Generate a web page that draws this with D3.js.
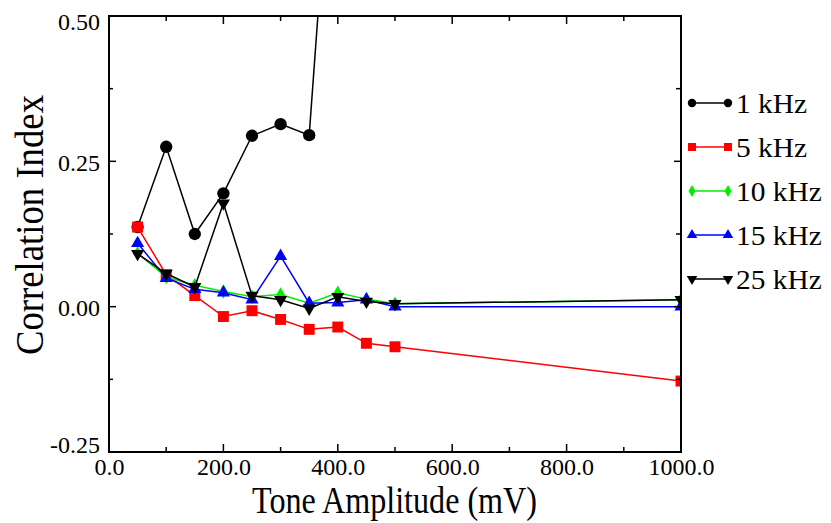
<!DOCTYPE html>
<html><head><meta charset="utf-8">
<script src="https://cdn.jsdelivr.net/npm/d3@7"></script>
<style>body{margin:0;background:#fff}svg{display:block}</style>
</head><body>
<script>
const amplitudes = [50,100,150,200,250,300,350,400,450,500,1000];
const series1k  = [0.137,0.275,0.125,0.195,0.294,0.314,0.295,0.97,null,null,null];
const series5k  = [0.137,0.055,0.019,-0.017,-0.007,-0.022,-0.039,-0.035,-0.063,-0.069,-0.128];
const series10k = [0.092,0.051,0.037,0.026,0.017,0.021,0.006,0.024,0.013,0.005,0.012];
const series15k = [0.109,0.049,0.030,0.024,0.012,0.087,0.006,0.007,0.012,0.000,0.000];
const series25k = [0.091,0.057,0.034,0.178,0.019,0.012,-0.003,0.017,0.009,0.005,0.012];
const seriesNames = ["1 kHz","5 kHz","10 kHz","15 kHz","25 kHz"];
const xTickValues = [0,200,400,600,800,1000];
const yTickValues = [-0.25,0,0.25,0.5];
const xTitle = "Tone Amplitude (mV)";
const yTitle = "Correlation Index";

const FONT = '"Liberation Serif","Times New Roman",Times,serif';
const W=831,H=523;
const svg=d3.select("body").append("svg").attr("width",W).attr("height",H)
  .attr("font-family",FONT);
const L=109,R=681,T=16,B=452;
const x=d3.scaleLinear().domain([0,1000]).range([L,R]);
const y=d3.scaleLinear().domain([-0.25,0.5]).range([B,T]);

const styles=[
 {color:"#000000",sym:d3.symbolCircle,size:120,lsize:56,rot:0},
 {color:"#ff0000",sym:d3.symbolSquare,size:120,lsize:64,rot:0},
 {color:"#00ee00",sym:d3.symbolDiamond,size:60,lsize:42,rot:0},
 {color:"#0000ff",sym:d3.symbolTriangle,size:75,lsize:48,rot:0},
 {color:"#000000",sym:d3.symbolTriangle,size:75,lsize:48,rot:180}
];
const allSeries=[series1k,series5k,series10k,series15k,series25k];

svg.append("clipPath").attr("id","clip").append("rect").attr("x",L).attr("y",T).attr("width",R-L).attr("height",B-T);

const g=svg.append("g").attr("clip-path","url(#clip)");
const line=d3.line().defined(d=>d[1]!=null).x(d=>x(d[0])).y(d=>y(d[1]));
allSeries.forEach((s,i)=>{
  const st=styles[i];
  const pts=amplitudes.map((a,j)=>[a,s[j]]);
  const sg=g.append("g");
  sg.append("path").attr("d",line(pts)).attr("fill","none").attr("stroke",st.color).attr("stroke-width",1.5);
  sg.selectAll("path.m").data(pts.filter(d=>d[1]!=null)).join("path").attr("class","m")
    .attr("d",d3.symbol(st.sym,st.size))
    .attr("transform",d=>`translate(${x(d[0])},${y(d[1])}) rotate(${st.rot})`)
    .attr("fill",st.color);
});

// Axes
const axG=svg.append("g");
const bottom=axG.append("g").attr("transform",`translate(0,${B})`)
  .call(d3.axisBottom(x).tickValues(xTickValues).tickSize(0).tickPadding(6).tickFormat(d3.format(".1f")));
bottom.attr("font-family",null).attr("font-size",null);
bottom.select(".domain").remove();
bottom.selectAll("text").attr("font-size",24).attr("font-family",FONT).attr("fill","#000");
const fmtY=d=>d3.format(".2f")(d).replace("\u2212","-");
const left=axG.append("g").attr("transform",`translate(${L},0)`)
  .call(d3.axisLeft(y).tickValues(yTickValues).tickSize(0).tickPadding(9).tickFormat(fmtY));
left.attr("font-family",null).attr("font-size",null);
left.select(".domain").remove();
left.selectAll("text").attr("font-size",24).attr("font-family",FONT).attr("fill","#000")
  .attr("dy",d=>d===-0.25?"0.0em":d===0.5?"0.55em":"0.38em");

const xMin=d3.range(100,1000,200);
const yMin=[-0.125,0.125,0.375];
const tk=axG.append("g").attr("stroke","#000").attr("stroke-width",1.5);
xTickValues.forEach(v=>{tk.append("line").attr("x1",x(v)).attr("x2",x(v)).attr("y1",B).attr("y2",B-8);
                 tk.append("line").attr("x1",x(v)).attr("x2",x(v)).attr("y1",T).attr("y2",T+8);});
xMin.forEach(v=>{tk.append("line").attr("x1",x(v)).attr("x2",x(v)).attr("y1",B).attr("y2",B-5);
                 tk.append("line").attr("x1",x(v)).attr("x2",x(v)).attr("y1",T).attr("y2",T+5);});
yTickValues.forEach(v=>{tk.append("line").attr("x1",L).attr("x2",L+7).attr("y1",y(v)).attr("y2",y(v));
                 tk.append("line").attr("x1",R).attr("x2",R-7).attr("y1",y(v)).attr("y2",y(v));});
yMin.forEach(v=>{tk.append("line").attr("x1",L).attr("x2",L+4).attr("y1",y(v)).attr("y2",y(v));
                 tk.append("line").attr("x1",R).attr("x2",R-5).attr("y1",y(v)).attr("y2",y(v));});
axG.append("rect").attr("x",L).attr("y",T).attr("width",R-L).attr("height",B-T)
  .attr("fill","none").attr("stroke","#000").attr("stroke-width",2);

// titles (stretched to match the original's glyph proportions)
svg.append("text").attr("x",252).attr("y",513).attr("font-size",37)
  .attr("textLength",285).attr("lengthAdjust","spacingAndGlyphs").text(xTitle);
svg.append("text").attr("transform",`translate(43,355) rotate(-90)`).attr("font-size",39)
  .attr("textLength",260).attr("lengthAdjust","spacingAndGlyphs").text(yTitle);

// legend
const lg=svg.append("g");
const ly0=103, ldy=44;
seriesNames.forEach((n,i)=>{
  const st=styles[i], yy=ly0+i*ldy;
  lg.append("line").attr("x1",692).attr("x2",728).attr("y1",yy).attr("y2",yy).attr("stroke",st.color).attr("stroke-width",1.5);
  [692,728].forEach(xx=>lg.append("path").attr("d",d3.symbol(st.sym,st.lsize)).attr("transform",`translate(${xx},${yy}) rotate(${st.rot})`).attr("fill",st.color));
  const t=lg.append("text").attr("x",736).attr("y",yy+10).attr("font-size",28).text(n);
  const nat=t.node().getComputedTextLength();
  t.attr("textLength",nat*1.05).attr("lengthAdjust","spacingAndGlyphs");
});
</script>
</body></html>
